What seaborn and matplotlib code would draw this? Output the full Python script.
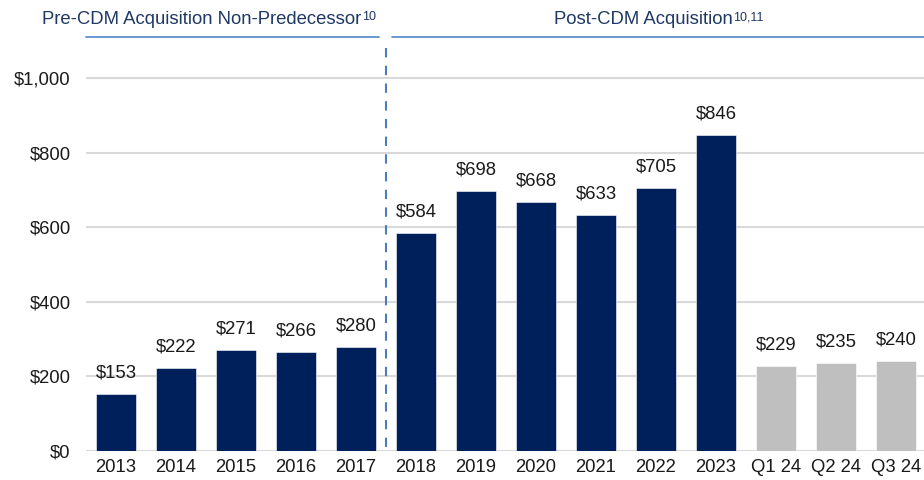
import pandas as pd
import matplotlib
matplotlib.use("Agg")
import matplotlib.pyplot as plt
import seaborn as sns
from matplotlib.lines import Line2D

periods = ["2013", "2014", "2015", "2016", "2017", "2018", "2019", "2020",
           "2021", "2022", "2023", "Q1 24", "Q2 24", "Q3 24"]
values = [153, 222, 271, 266, 280, 584, 698, 668, 633, 705, 846, 229, 235, 240]
is_quarter = [False] * 11 + [True] * 3
y_ticks = [0, 200, 400, 600, 800, 1000]

NAVY = "#00205B"
GREY = "#BFBFBF"
HEAD = "#1F3864"
RULE = "#5B8FD0"
FS = 13.3

sns.set_style("white")
plt.rcParams["font.family"] = ["Liberation Sans", "DejaVu Sans"]

df = pd.DataFrame({"period": periods, "value": values, "quarter": is_quarter})
colors = {p: (GREY if q else NAVY) for p, q in zip(periods, is_quarter)}

fig = plt.figure(figsize=(9.24, 4.8), dpi=100)
ax = fig.add_axes([86 / 924, 29 / 480, 840 / 924, 411 / 480])

sns.barplot(data=df, x="period", y="value", hue="period", palette=colors,
            legend=False, width=0.68, saturation=1, ax=ax, zorder=3,
            edgecolor="white", linewidth=0.4)

ax.set_xlim(-0.5, 13.5)
ax.set_ylim(0, 1102)
ax.set_yticks(y_ticks)
ax.set_yticklabels([f"${v:,}" for v in y_ticks])
ax.yaxis.grid(True, color="#D9D9D9", linewidth=1.5, zorder=0)
ax.set_axisbelow(True)
for s in ax.spines.values():
    s.set_visible(False)
ax.tick_params(axis="both", length=0, labelsize=FS, colors="#1A1A1A")
ax.tick_params(axis="y", pad=11)
ax.tick_params(axis="x", pad=6)
ax.set_xlabel("")
ax.set_ylabel("")

for i, v in enumerate(values):
    ax.annotate(f"${v}", (i, v), xytext=(0, 9), textcoords="offset points",
                ha="center", va="bottom", fontsize=FS, color="#1A1A1A")

# divider between the two periods
ax.axvline(4.5, ymin=0.01, ymax=1.0, color="#4A7EBB", linestyle=(0, (4.5, 4)),
           linewidth=1.5, zorder=4)

# header rules
fig.add_artist(Line2D([86 / 924, 379 / 924], [1 - 37 / 480] * 2, color=RULE, linewidth=1.3))
fig.add_artist(Line2D([392 / 924, 924 / 924], [1 - 37 / 480] * 2, color=RULE, linewidth=1.3))

# headers with superscripts
fig.canvas.draw()
renderer = fig.canvas.get_renderer()
for label, sup, x0 in [("Pre-CDM Acquisition Non-Predecessor", "10", 42),
                       ("Post-CDM Acquisition", "10,11", 554)]:
    t = fig.text(x0 / 924, 1 - 19 / 480, label, ha="left", va="center",
                 fontsize=FS, color=HEAD)
    bb = t.get_window_extent(renderer)
    fig.text((bb.x1 + 0.5) / fig.bbox.width, (bb.y1 - 1) / fig.bbox.height, sup,
             ha="left", va="top", fontsize=9, color=HEAD)

fig.savefig("out.png", dpi=100)
